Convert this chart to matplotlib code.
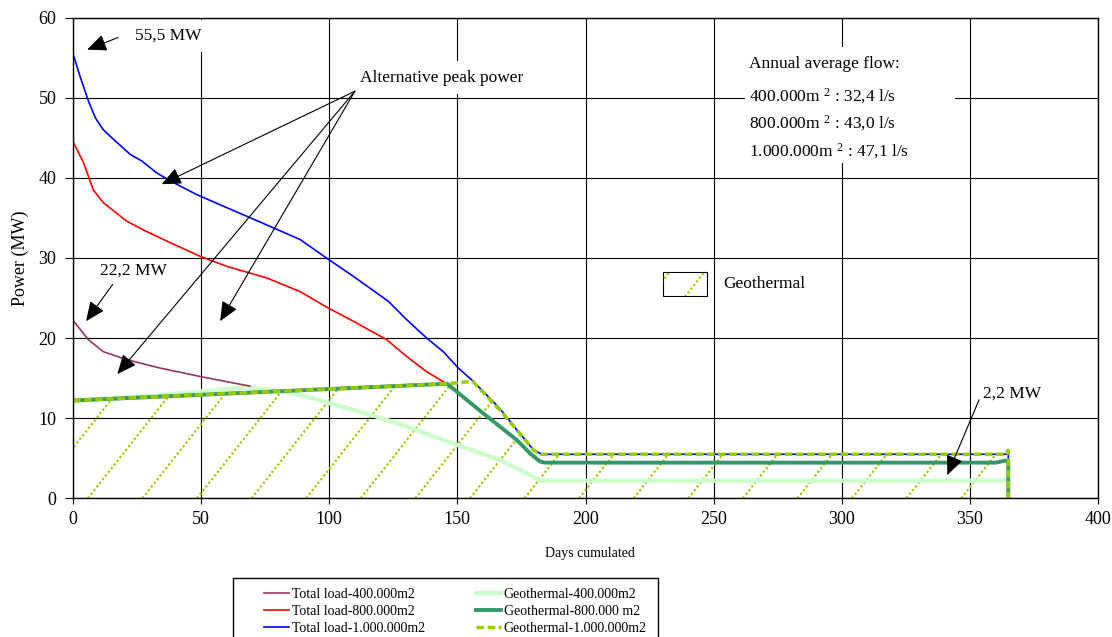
import matplotlib
matplotlib.use('Agg')
import matplotlib.pyplot as plt
from matplotlib.patches import Rectangle
import numpy as np

plt.rcParams['font.family'] = 'Liberation Serif'
plt.rcParams['mathtext.fontset'] = 'custom'
plt.rcParams['mathtext.rm'] = 'Liberation Serif'
plt.rcParams['mathtext.it'] = 'Liberation Serif:italic'

# Total load curves (days, MW)
load400_days = [0, 6, 11.8, 21, 34, 49.6, 69]
load400_mw = [22.2, 19.8, 18.3, 17.3, 16.25, 15.2, 14.0]

load800_days = [0, 4.1, 7.9, 11.8, 20.9, 27.4, 36.6, 49.6, 60, 75.6, 88.6, 99.6,
                109.4, 122.4, 130.2, 138, 145.8]
load800_mw = [44.5, 41.9, 38.5, 36.9, 34.6, 33.5, 32.1, 30.2, 28.95, 27.5, 25.8, 23.75,
              22.1, 19.8, 17.7, 15.8, 14.3]

load1000_days = [0, 2.7, 6, 8.7, 11.8, 15.8, 22.4, 26.8, 32.7, 38, 48.3, 58.7, 67.8,
                 78.2, 88.6, 99.3, 109.4, 123, 130.2, 138, 144.5, 150.4, 156.2, 166.6,
                 173.3, 179.8, 183, 365, 365]
load1000_mw = [55.5, 52.7, 49.6, 47.5, 46.0, 44.8, 42.9, 42.1, 40.6, 39.6, 37.9, 36.45, 35.2,
               33.75, 32.3, 29.9, 27.7, 24.6, 22.3, 20.0, 18.3, 16.25, 14.6, 11.2,
               8.5, 6.0, 5.5, 5.5, 0]

# Geothermal curves
geo400_days = [0, 30, 57, 69, 86, 100, 118.5, 128, 141, 153.6, 166.6, 177, 182.5, 364]
geo400_mw = [12.2, 12.75, 13.55, 13.85, 13.1, 11.9, 10.2, 9.2, 7.7, 6.25, 4.8, 3.1, 2.2, 2.2]

geo800_days = [0, 146, 153.6, 160.1, 166.6, 173.1, 178.4, 182.2, 184, 360, 364, 365, 365]
geo800_mw = [12.2, 14.3, 12.3, 10.6, 8.95, 7.3, 5.6, 4.6, 4.45, 4.45, 4.7, 4.7, 0]

geo1000_days = [0, 146, 156, 166.6, 173.3, 179.8, 182.5, 363, 365, 365]
geo1000_mw = [12.2, 14.3, 14.6, 11.0, 8.5, 6.0, 5.5, 5.5, 6.0, 0]

flow_lines = ['Annual average flow:',
              r'400.000m $^{\mathrm{2}}$ : 32,4 l/s',
              r'800.000m $^{\mathrm{2}}$ : 43,0 l/s',
              r'1.000.000m $^{\mathrm{2}}$ : 47,1 l/s']

HATCH = '#99cc00'


def draw_hatch(ax, clip, transform=None, x0=5.8, step=21.3, slope=0.405, zorder=1.5):
    """Sparse dotted diagonal lines clipped to a region."""
    for d0 in np.arange(x0 - 3 * step, 420, step):
        ln, = ax.plot([d0, d0 + 70 / slope], [0, 70], color=HATCH, lw=1.6,
                      linestyle=(0, (1, 1.1)), zorder=zorder)
        if transform is None:
            ln.set_clip_path(clip)
        else:
            ln.set_clip_path(clip, transform)


fig = plt.figure(figsize=(11.12, 6.37), dpi=100)
ax = fig.add_axes([73 / 1112, 1 - 498.3 / 637, 1025 / 1112, 480.8 / 637])
ax.set_xlim(0, 400)
ax.set_ylim(0, 60)
ax.set_xticks(np.arange(0, 401, 50))
ax.set_yticks(np.arange(0, 61, 10))
ax.grid(True, color='black', lw=0.8)
ax.set_axisbelow(True)
ax.tick_params(axis='both', labelsize=13, direction='out', color='black')
ax.tick_params(axis='y', length=6, pad=6)
ax.tick_params(axis='x', length=4, pad=5)
for sp in ax.spines.values():
    sp.set_color('black')
    sp.set_linewidth(1.0)

# hatched geothermal area under the largest geothermal curve
area = ax.fill_between(geo1000_days, 0, geo1000_mw, facecolor='none', edgecolor='none')
draw_hatch(ax, area.get_paths()[0], ax.transData)

l_g400, = ax.plot(geo400_days, geo400_mw, color='#ccffcc', lw=3.2, zorder=2,
                  label='Geothermal-400.000m2')
l_t400, = ax.plot(load400_days, load400_mw, color='#993366', lw=1.2, zorder=2.1,
                  label='Total load-400.000m2')
l_t800, = ax.plot(load800_days, load800_mw, color='#ff0000', lw=1.2, zorder=2.1,
                  label='Total load-800.000m2')
l_t1000, = ax.plot(load1000_days, load1000_mw, color='#0000ff', lw=1.2, zorder=2.1,
                   label='Total load-1.000.000m2')
l_g800, = ax.plot(geo800_days, geo800_mw, color='#339966', lw=2.8, zorder=2.2,
                  label='Geothermal-800.000 m2')
l_g1000, = ax.plot(geo1000_days, geo1000_mw, color=HATCH, lw=2.5, dashes=(2.2, 1),
                   zorder=2.3, label='Geothermal-1.000.000m2')

ax.set_xlabel('Days cumulated', fontsize=10)
ax.xaxis.set_label_coords(0.504, -0.114)
ax.xaxis.label.set_va('center')
ax.set_ylabel('Power (MW)', fontsize=13)
ax.yaxis.set_label_coords(-0.051, 0.5)
ax.yaxis.label.set_va('center')

# annotations
arrow = dict(arrowstyle='-|>,head_length=0.8,head_width=0.35', color='black', lw=0.8,
             shrinkA=0, shrinkB=0, mutation_scale=15)

ax.text(24.2, 57.7, '55,5 MW', fontsize=12.5, ha='left', va='center', zorder=2.4,
        bbox=dict(boxstyle='square,pad=0.45', facecolor='white', edgecolor='none'))
ax.annotate('', xy=(5.5, 56.0), xytext=(17.6, 57.5), arrowprops=arrow, zorder=4)

ax.text(10.5, 28.4, '22,2 MW', fontsize=12.5, ha='left', va='center', zorder=3)
ax.annotate('', xy=(5.1, 22.1), xytext=(15.5, 26.7), arrowprops=arrow, zorder=4)

ax.text(112, 52.5, 'Alternative peak power', fontsize=12.5, ha='left', va='center', zorder=2.4,
        bbox=dict(boxstyle='square,pad=0.5', facecolor='white', edgecolor='none'))
for tip in [(34.6, 39.2), (17.3, 15.5), (57.4, 22.1)]:
    ax.annotate('', xy=tip, xytext=(110.0, 50.8), arrowprops=arrow, zorder=4)

ax.text(355.1, 13.0, '2,2 MW', fontsize=12.5, ha='left', va='center', zorder=3)
ax.annotate('', xy=(341.2, 2.9), xytext=(353.6, 12.3), arrowprops=arrow, zorder=4)

# annual average flow note
ax.add_patch(Rectangle((262.2, 41.8), 82.0, 14.5, facecolor='white', edgecolor='none',
                       zorder=2.4))
for txt, y in zip(flow_lines, [54.2, 50.2, 46.8, 43.3]):
    ax.text(263.8, y, txt, fontsize=12.5, ha='left', va='center', zorder=3)

# geothermal key
key = Rectangle((230.2, 25.3), 17.2, 2.9, facecolor='white', edgecolor='black', lw=0.8,
                zorder=2.4)
ax.add_patch(key)
draw_hatch(ax, key, x0=176.7, step=13.7, slope=0.405, zorder=2.45)
ax.text(253.7, 26.7, 'Geothermal', fontsize=12.5, ha='left', va='center', zorder=3)

# legend (box runs past the bottom edge like the original)
fig.patches.append(Rectangle((233 / 1112, -0.05), 425 / 1112, 1 - 578 / 637 + 0.05,
                             transform=fig.transFigure, facecolor='white',
                             edgecolor='black', lw=1.0, zorder=-1))
ax.legend(handles=[l_t400, l_t800, l_t1000, l_g400, l_g800, l_g1000], ncol=2,
          loc='upper left', bbox_to_anchor=(257 / 1112, 1 - 581 / 637),
          bbox_transform=fig.transFigure, frameon=False, fontsize=10,
          borderpad=0, handlelength=1.8, handletextpad=0.22, columnspacing=3.65,
          labelspacing=0.28)

fig.savefig('out.png', dpi=100)
